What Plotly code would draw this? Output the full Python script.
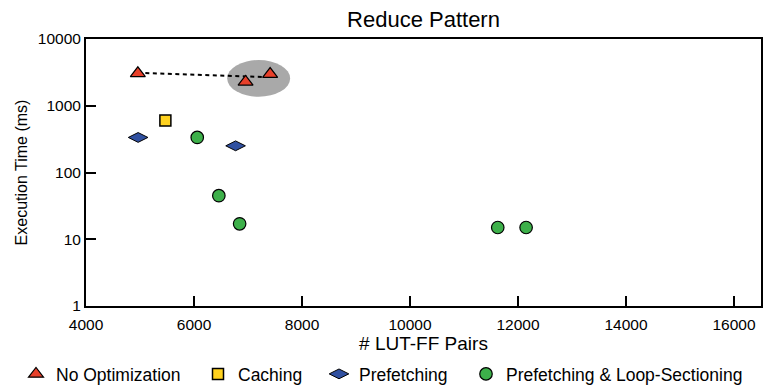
import plotly.graph_objects as go

# ---- data ----
noopt_x = [4960, 6955, 7410]
noopt_y = [3060, 2280, 2980]

caching_x = [5470]
caching_y = [600]

prefetch_x = [4965, 6770]
prefetch_y = [335, 251]

loopsec_x = [6060, 6460, 6845, 11625, 12150]
loopsec_y = [335, 45, 17, 15, 15]

trend_x = [4960, 7320]
trend_y = [3120, 2690]

highlight_x = [6615, 7780]
highlight_y = [1365, 4840]

x_ticks = [4000, 6000, 8000, 10000, 12000, 14000, 16000]
y_ticks = [1, 10, 100, 1000, 10000]

FONT = "Liberation Sans, Arial, Helvetica, sans-serif"

fig = go.Figure()

fig.add_trace(go.Scatter(
    x=trend_x, y=trend_y, mode="lines",
    line=dict(color="black", width=2, dash="4px,3.5px"),
    showlegend=False, hoverinfo="skip"))

fig.add_trace(go.Scatter(
    x=noopt_x, y=noopt_y, mode="markers", name="No Optimization", legend="legend",
    marker=dict(symbol="triangle-up", size=13, color="#E8402A",
                line=dict(color="black", width=1.2))))
fig.add_trace(go.Scatter(
    x=caching_x, y=caching_y, mode="markers", name="Caching", legend="legend2",
    marker=dict(symbol="square", size=11, color="#FFD21F",
                line=dict(color="black", width=1.5))))
fig.add_trace(go.Scatter(
    x=prefetch_x, y=prefetch_y, mode="markers", name="Prefetching", legend="legend3",
    marker=dict(symbol="diamond-wide", size=14, color="#3050A0",
                line=dict(color="black", width=1))))
fig.add_trace(go.Scatter(
    x=loopsec_x, y=loopsec_y, mode="markers", name="Prefetching & Loop-Sectioning",
    legend="legend4",
    marker=dict(symbol="circle", size=12.5, color="#3DB04A",
                line=dict(color="black", width=1.2))))

fig.add_shape(type="circle", xref="x", yref="y", layer="below",
              x0=highlight_x[0], x1=highlight_x[1],
              y0=highlight_y[0], y1=highlight_y[1],
              fillcolor="#A9A9A9", line=dict(width=0))

axis_common = dict(showline=True, linecolor="black", linewidth=2, mirror=True,
                   ticks="inside", ticklen=10, tickwidth=2, tickcolor="black",
                   showgrid=False, zeroline=False, automargin=False,
                   tickfont=dict(family=FONT, size=15.5, color="black"))

fig.update_xaxes(range=[4000, 16500], tickvals=x_ticks,
                 ticktext=[str(v) for v in x_ticks], tickangle=0,
                 ticklabelstandoff=3,
                 title=dict(text="# LUT-FF Pairs", font=dict(family=FONT, size=19, color="black"),
                            standoff=4),
                 **axis_common)
fig.update_yaxes(type="log", range=[0, 4], tickvals=y_ticks,
                 ticktext=[str(v) for v in y_ticks],
                 title=dict(text="Execution Time (ms)", font=dict(family=FONT, size=16, color="black"),
                            standoff=6),
                 **axis_common)

def leg(xpx):
    return dict(orientation="h", xref="container", yref="container",
                x=xpx / 763, xanchor="left", y=1 - 374 / 391, yanchor="middle",
                font=dict(family=FONT, size=17.5, color="black"),
                itemwidth=30, bgcolor="rgba(0,0,0,0)", borderwidth=0)

fig.update_layout(
    width=763, height=391,
    margin=dict(l=86, r=2, t=39, b=85, autoexpand=False),
    paper_bgcolor="white", plot_bgcolor="white",
    font=dict(family=FONT, color="black"),
    title=dict(text="Reduce Pattern", x=0.5, xref="paper", y=0.95, yref="container",
               xanchor="center", yanchor="middle",
               font=dict(family=FONT, size=22, color="black")),
    legend=leg(16), legend2=leg(198), legend3=leg(319), legend4=leg(466),
)

fig.write_html("out.html", config={"displayModeBar": False},
               post_script="document.body.style.margin='0';")
